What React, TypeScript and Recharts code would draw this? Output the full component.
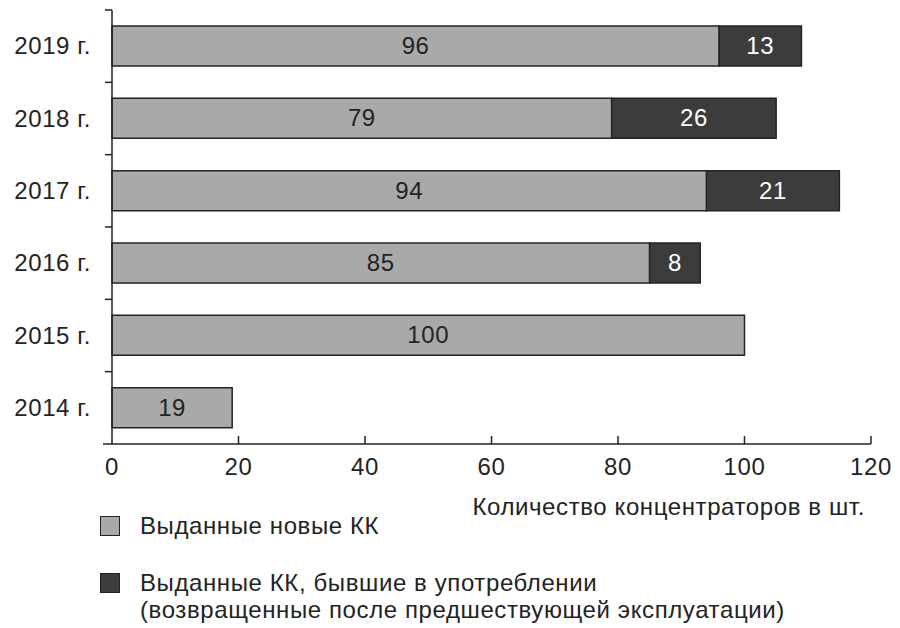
import React from 'react'
import { BarChart, Bar, XAxis, YAxis, Legend, LabelList, Label } from 'recharts'

// Выдача концентраторов кислорода по годам
const years = ['2019 г.', '2018 г.', '2017 г.', '2016 г.', '2015 г.', '2014 г.']
const newUnits = [96, 79, 94, 85, 100, 19]
const usedUnits: (number | null)[] = [13, 26, 21, 8, null, null]
const xTicks = [0, 20, 40, 60, 80, 100, 120]

const newLabel = 'Выданные новые КК'
const usedLabel = ['Выданные КК, бывшие в употреблении', '(возвращенные после предшествующей эксплуатации)']
const axisTitle = 'Количество концентраторов в шт.'

const data = years.map((year, i) => ({ year, fresh: newUnits[i], used: usedUnits[i] }))

const FONT = '"Liberation Sans", Arial, Helvetica, sans-serif'
const FS = 24
const LS = 0.6
const INK = '#232323'
const LIGHT = '#a9a9a9'
const DARK = '#3c3c3c'

const W = 900
const H = 628
const X_AXIS_H = 30
const M = { top: 10, right: 29, bottom: 154, left: 0 }
const Y_AXIS_W = 112
const BAND = (H - M.top - M.bottom - X_AXIS_H) / years.length

const YTick = (props: any) => {
    const { x, y, payload } = props
    return (
        <g>
            <line x1={Y_AXIS_W - 7} x2={Y_AXIS_W} y1={y - BAND / 2} y2={y - BAND / 2} stroke={INK} strokeWidth={1.5} />
            <text x={x - 21} y={y + 8} textAnchor="end" fontSize={FS} letterSpacing={LS} fill={INK} fontFamily={FONT}>
                {payload.value}
            </text>
        </g>
    )
}

const XTick = (props: any) => {
    const { x, y, payload } = props
    return (
        <g>
            {payload.value === 0 ? (
                <line x1={x - 9} x2={x} y1={y} y2={y} stroke={INK} strokeWidth={1.5} />
            ) : (
                <line x1={x} x2={x} y1={y} y2={y - 8} stroke={INK} strokeWidth={1.5} />
            )}
            <text x={x} y={y + 31} textAnchor="middle" fontSize={FS} letterSpacing={LS} fill={INK} fontFamily={FONT}>
                {payload.value}
            </text>
        </g>
    )
}

const valueLabel = (color: string) => (props: any) => {
    const { x, y, width, height, value } = props
    if (value == null || value === 0) return null
    return (
        <text x={x + width / 2} y={y + height / 2 + 8} textAnchor="middle" fontSize={FS} letterSpacing={LS} fill={color} fontFamily={FONT}>
            {value}
        </text>
    )
}

const swatch = (color: string) => (
    <span
        style={{
            display: 'inline-block',
            width: 18,
            height: 18,
            background: color,
            border: `1.5px solid ${INK}`,
            marginRight: 20,
            flexShrink: 0,
            marginTop: 4,
        }}
    />
)

const LegendBox = () => (
    <div style={{ fontFamily: FONT, fontSize: FS, letterSpacing: LS, color: INK, lineHeight: '27px', textAlign: 'left' }}>
        <div style={{ display: 'flex', alignItems: 'flex-start' }}>
            {swatch(LIGHT)}
            <span>{newLabel}</span>
        </div>
        <div style={{ display: 'flex', alignItems: 'flex-start', marginTop: 30 }}>
            {swatch(DARK)}
            <span>
                {usedLabel[0]}
                <br />
                {usedLabel[1]}
            </span>
        </div>
    </div>
)

const App: React.FC = () => {
    return (
        <div style={{ position: 'absolute', left: 0, top: 0, width: W, height: H, background: '#fff' }}>
            <BarChart width={W} height={H} data={data} layout="vertical" margin={M} barSize={40}>
                <XAxis
                    type="number"
                    domain={[0, 120]}
                    ticks={xTicks}
                    interval={0}
                    height={X_AXIS_H}
                    tick={<XTick />}
                    tickLine={false}
                    tickSize={0}
                    tickMargin={0}
                    axisLine={{ stroke: INK, strokeWidth: 1.5 }}
                >
                    <Label
                        content={(p: any) => {
                            const vb = p.viewBox
                            return (
                                <text x={vb.x + vb.width - 6} y={vb.y + 71} textAnchor="end" fontSize={FS} letterSpacing={LS} fill={INK} fontFamily={FONT}>
                                    {axisTitle}
                                </text>
                            )
                        }}
                    />
                </XAxis>
                <YAxis
                    type="category"
                    dataKey="year"
                    width={Y_AXIS_W}
                    tick={<YTick />}
                    tickLine={false}
                    tickSize={0}
                    tickMargin={0}
                    axisLine={{ stroke: INK, strokeWidth: 1.5 }}
                />
                <Legend
                    layout="horizontal"
                    verticalAlign="middle"
                    align="center"
                    content={<LegendBox />}
                    wrapperStyle={{ position: 'absolute', left: 100, top: 512, width: 790 }}
                />
                <Bar dataKey="fresh" stackId="a" fill={LIGHT} stroke={INK} strokeWidth={1.5} isAnimationActive={false}>
                    <LabelList dataKey="fresh" content={valueLabel(INK)} />
                </Bar>
                <Bar dataKey="used" stackId="a" fill={DARK} stroke={INK} strokeWidth={1.5} isAnimationActive={false}>
                    <LabelList dataKey="used" content={valueLabel('#fff')} />
                </Bar>
            </BarChart>
        </div>
    )
}

export default App
